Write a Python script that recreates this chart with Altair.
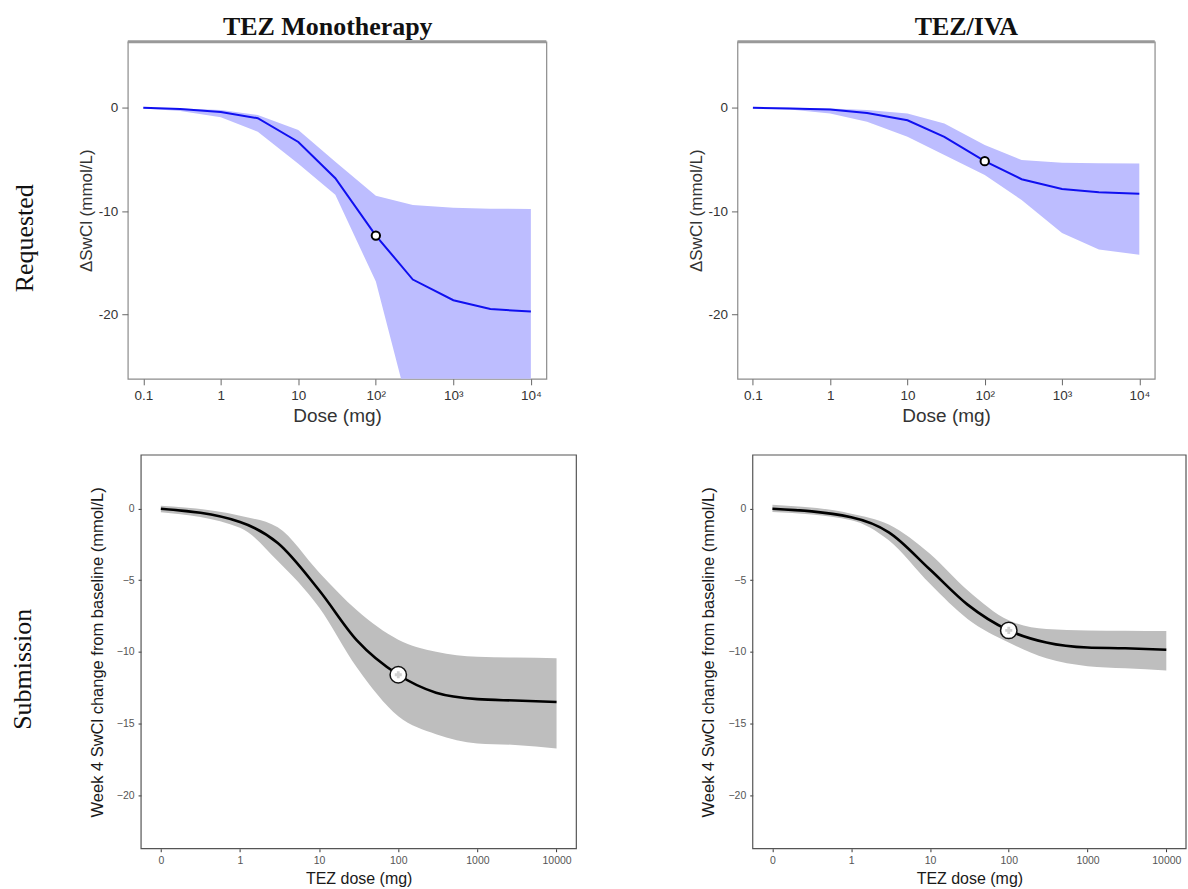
import altair as alt
import pandas as pd

# ---------------- data ----------------
req_doses = [0.1, 0.3, 1, 3, 10, 30, 100, 300, 1000, 3000, 10000]

mono_req_mid = [0.0, -0.1, -0.4, -1.0, -3.3, -6.8, -12.35, -16.6, -18.6, -19.45, -19.7]
mono_req_hi = [0.0, -0.05, -0.2, -0.7, -2.15, -5.2, -8.5, -9.4, -9.65, -9.75, -9.77]
mono_req_lo = [-0.05, -0.3, -0.9, -2.3, -5.4, -8.4, -16.8, -30.6, -40.0, -45.0, -47.0]

combo_req_mid = [0.0, -0.05, -0.15, -0.5, -1.2, -2.8, -5.15, -6.9, -7.85, -8.15, -8.3]
combo_req_hi = [0.0, 0.0, -0.05, -0.2, -0.55, -1.5, -3.6, -5.05, -5.3, -5.35, -5.37]
combo_req_lo = [-0.05, -0.15, -0.55, -1.35, -2.8, -4.55, -6.5, -8.9, -12.1, -13.7, -14.2]

sub_doses = [0.1, 1, 3, 10, 30, 100, 300, 1000, 3000, 10000]  # first point is dose "0"

mono_sub_mid = [0.0, -0.93, -2.4, -5.7, -9.2, -11.6, -12.85, -13.3, -13.4, -13.5]
mono_sub_hi = [0.2, -0.5, -1.3, -4.45, -7.1, -9.15, -10.0, -10.35, -10.4, -10.45]
mono_sub_lo = [-0.25, -1.33, -3.65, -6.9, -11.1, -14.5, -15.75, -16.4, -16.5, -16.75]

combo_sub_mid = [0.0, -0.6, -1.65, -4.25, -6.7, -8.5, -9.35, -9.7, -9.75, -9.85]
combo_sub_hi = [0.28, -0.35, -1.1, -3.15, -5.7, -7.8, -8.4, -8.5, -8.52, -8.55]
combo_sub_lo = [-0.23, -0.8, -2.2, -5.25, -7.7, -9.35, -10.45, -11.0, -11.15, -11.3]

marker_dose = [100]
mono_req_marker = [-12.35]
combo_req_marker = [-5.15]
mono_sub_marker = [-11.6]
combo_sub_marker = [-8.5]

top_ticks = [0.1, 1, 10, 100, 1000, 10000]
top_yticks = [0, -10, -20]
sub_xticks = [0.1, 1, 10, 100, 1000, 10000]
sub_yticks = [0, -5, -10, -15, -20]

SANS = "Liberation Sans"
SERIF = "Liberation Serif"
one = pd.DataFrame({"k": [0]})


def bounds_box(x1, x2, y1, y2):
    # invisible box that fixes the layout bounds of a row
    return alt.Chart(one).mark_rect(color="white", opacity=0).encode(
        x=alt.value(x1), x2=alt.value(x2), y=alt.value(y1), y2=alt.value(y2))


def label(text, x, y, size, bold=False, angle=0):
    kw = dict(text=text, font=SERIF, fontSize=size, color="#111", align="center",
              baseline="middle" if angle else "alphabetic")
    if bold:
        kw["fontWeight"] = "bold"
    if angle:
        kw["angle"] = angle
    return alt.Chart(one).mark_text(**kw).encode(x=alt.value(x), y=alt.value(y))


def top_panel(mid, lo, hi, mk, title, W, H, title_x, row_label=None, box=None):
    df = pd.DataFrame({"dose": req_doses, "mid": mid, "lo": lo, "hi": hi})
    mdf = pd.DataFrame({"dose": marker_dose, "val": mk})
    xs = alt.Scale(type="log", domain=[10 ** -1.2, 10 ** 4.2], nice=False)
    ys = alt.Scale(domain=[-26.2, 6.4], nice=False, zero=False)
    xax = alt.Axis(values=top_ticks, title="Dose (mg)", domain=False, grid=False,
                   tickSize=6, tickColor="#666", labelFont=SANS, labelFontSize=13.5,
                   labelColor="#333", labelPadding=4, labelFlush=False,
                   labelExpr="datum.value >= 100 ? '10' + (datum.value == 100 ? '²' : datum.value == 1000 ? '³' : '⁴') : '' + datum.value",
                   titleFont=SANS, titleFontSize=19, titleFontWeight="normal",
                   titleColor="#333", titlePadding=4)
    yax = alt.Axis(values=top_yticks, title="ΔSwCl (mmol/L)", domain=False, grid=False,
                   tickSize=6, tickColor="#666", labelFont=SANS, labelFontSize=13.5,
                   labelColor="#333", labelPadding=4, labelExpr="'' + datum.value",
                   titleFont=SANS, titleFontSize=17, titleFontWeight="normal",
                   titleColor="#333", titlePadding=3)
    layers = []
    if box:
        layers.append(bounds_box(*box))
    band = alt.Chart(df).mark_area(color="#bdbdff", opacity=1, clip=True).encode(
        x=alt.X("dose:Q", scale=xs, axis=xax),
        y=alt.Y("lo:Q", scale=ys, axis=yax),
        y2="hi:Q")
    line = alt.Chart(df).mark_line(color="#1010f0", strokeWidth=2, clip=True).encode(
        x="dose:Q", y="mid:Q")
    pt = alt.Chart(mdf).mark_point(shape="circle", filled=True, fill="white", stroke="black",
                                   strokeWidth=2, size=70, opacity=1).encode(
        x="dose:Q", y="val:Q")
    topline = alt.Chart(one).mark_rule(color="#999", strokeWidth=3).encode(
        x=alt.value(0), x2=alt.value(W), y=alt.value(0))
    layers += [band, line, pt, topline, label(title, title_x, -6.7, 26, bold=True)]
    if row_label:
        layers.append(label(row_label, -103, 197, 26, angle=270))
    return alt.layer(*layers).properties(
        width=W, height=H,
        view=alt.ViewBackground(stroke="#8c8c8c", strokeWidth=1.2))


def sub_panel(mid, lo, hi, mk, W, H, shift=0.0, row_label=None, box=None):
    # shift: plot area starts this many pixels right of the panel origin
    df = pd.DataFrame({"dose": sub_doses, "mid": mid, "lo": lo, "hi": hi})
    mdf = pd.DataFrame({"dose": marker_dose, "val": mk})
    xs = alt.Scale(type="log", domain=[10 ** -1.25, 10 ** 4.25], nice=False,
                   range=[shift, shift + W])
    ys = alt.Scale(domain=[-23.75, 3.75], nice=False, zero=False)
    xax = alt.Axis(values=sub_xticks, title="TEZ dose (mg)", domain=False, grid=False,
                   tickSize=3, tickColor="#333", labelFont=SANS, labelFontSize=10.5,
                   labelColor="#555", labelPadding=4, labelFlush=False,
                   labelExpr="datum.value == 0.1 ? '0' : '' + datum.value",
                   titleFont=SANS, titleFontSize=16, titleFontWeight="normal",
                   titleColor="#1a1a1a", titlePadding=4)
    yax = alt.Axis(values=sub_yticks, title="Week 4 SwCl change from baseline (mmol/L)",
                   domain=False, grid=False, tickSize=3, tickColor="#333", labelFont=SANS,
                   labelFontSize=10.5, labelColor="#555", labelPadding=4,
                   labelExpr="datum.value == 0 ? '0' : '−' + abs(datum.value)",
                   titleFont=SANS, titleFontSize=16.5, titleFontWeight="normal",
                   titleColor="#1a1a1a", titlePadding=11, offset=-shift)
    layers = []
    if box:
        layers.append(bounds_box(*box))
    band = alt.Chart(df).mark_area(color="#bebebe", opacity=1, interpolate="monotone").encode(
        x=alt.X("dose:Q", scale=xs, axis=xax),
        y=alt.Y("lo:Q", scale=ys, axis=yax),
        y2="hi:Q")
    line = alt.Chart(df).mark_line(color="black", strokeWidth=2.6, interpolate="monotone").encode(
        x="dose:Q", y="mid:Q")
    pt = alt.Chart(mdf).mark_point(shape="circle", filled=True, fill="white", stroke="#111",
                                   strokeWidth=1.5, size=270, opacity=1).encode(
        x="dose:Q", y="val:Q")
    pt2 = alt.Chart(mdf).mark_point(shape="cross", filled=True, fill="#d0d0d0",
                                    size=50, opacity=1).encode(x="dose:Q", y="val:Q")
    frame = alt.Chart(one).mark_rect(filled=False, color="#555", strokeWidth=1.2).encode(
        x=alt.value(shift), x2=alt.value(shift + W), y=alt.value(0), y2=alt.value(H))
    layers += [band, line, pt, pt2, frame]
    if row_label:
        layers.append(label(row_label, shift - 118, 214.7, 26, angle=270))
    return alt.layer(*layers).properties(
        width=shift + W, height=H,
        view=alt.ViewBackground(stroke="transparent"))


tl = top_panel(mono_req_mid, mono_req_lo, mono_req_hi, mono_req_marker, "TEZ Monotherapy",
               419.3, 337.7, 200.3, row_label="Requested",
               box=(-126.7, 1061.3, -40, 400))
tr = top_panel(combo_req_mid, combo_req_lo, combo_req_hi, combo_req_marker, "TEZ/IVA",
               418.0, 337.7, 229.3)
bl = sub_panel(mono_sub_mid, mono_sub_lo, mono_sub_hi, mono_sub_marker, 436.0, 394.4,
               shift=13.3, row_label="Submission", box=(-126.7, 1061.3, -12.3, 436.7))
br = sub_panel(combo_sub_mid, combo_sub_lo, combo_sub_hi, combo_sub_marker, 434.0, 394.4)

row1 = alt.hconcat(tl, tr, spacing=190.7, bounds="flush").resolve_scale(
    x="independent", y="independent")
row2 = alt.hconcat(bl, br, spacing=176, bounds="flush").resolve_scale(
    x="independent", y="independent")

chart = alt.vconcat(row1, row2, spacing=0).resolve_scale(
    x="independent", y="independent").properties(
    padding=0, autosize=alt.AutoSizeParams(type="pad")).configure(
    background="white")

chart.save("out.html", embed_options={"renderer": "svg", "actions": False})
